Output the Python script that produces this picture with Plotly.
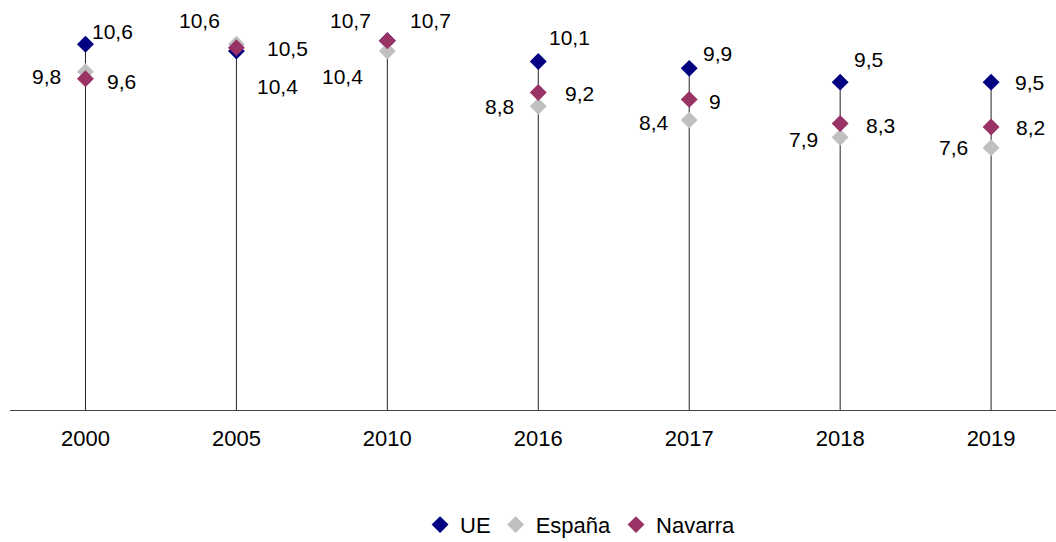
import plotly.graph_objects as go

years = ["2000", "2005", "2010", "2016", "2017", "2018", "2019"]
ue = [10.6, 10.4, 10.7, 10.1, 9.9, 9.5, 9.5]
espana = [9.8, 10.6, 10.4, 8.8, 8.4, 7.9, 7.6]
navarra = [9.6, 10.5, 10.7, 9.2, 9.0, 8.3, 8.2]

# label offsets (px) for each point, by series
ue_off = [(27, 13), (41, -35), (43, 20), (31, 24), (28, 15), (28, 23), (38, 0)]
es_off = [(-39, -5), (-37, 24), (-45, -25), (-39, 0), (-35, -2), (-37, -2), (-38, 0)]
na_off = [(36, -3), (51, -1), (-37, 20), (41, -1), (26, -2), (40, -2), (39, 0)]

series = [
    ("UE", ue, "#000080", ue_off),
    ("España", espana, "#C0C0C0", es_off),
    ("Navarra", navarra, "#993366", na_off),
]

FONT = "Liberation Sans, Arial, sans-serif"

fig = go.Figure()

# drop lines from 0 to highest value of each year
lx, ly = [], []
for i, y in enumerate(years):
    lx += [y, y, None]
    ly += [0, max(ue[i], espana[i], navarra[i]), None]
fig.add_trace(go.Scatter(x=lx, y=ly, mode="lines", line=dict(color="#222", width=1),
                         showlegend=False, hoverinfo="skip"))

for name, vals, col, offs in series:
    fig.add_trace(go.Scatter(x=years, y=vals, mode="markers", name=name,
                             marker=dict(symbol="diamond", size=13, color=col)))
    # category index as x, numeric-looking strings would be read as indices
    for i, (v, (dx, dy)) in enumerate(zip(vals, offs)):
        fig.add_annotation(x=i, y=v, text=f"{v:g}".replace(".", ","), showarrow=False,
                           xshift=dx, yshift=dy, font=dict(family=FONT, size=21, color="#000"))

fig.update_layout(
    width=1056, height=542,
    margin=dict(l=10, r=0, t=0, b=132, autoexpand=False),
    plot_bgcolor="white", paper_bgcolor="white",
    font=dict(family=FONT, size=22, color="#000"),
    showlegend=True,
    legend=dict(orientation="h", x=0.545, xanchor="center", y=-0.28, yanchor="middle",
                font=dict(size=22), itemwidth=30, traceorder="normal"),
)
fig.update_xaxes(type="category", range=[-0.5, 6.43], showline=True, linecolor="#444",
                 linewidth=1, showgrid=False, ticks="", tickfont=dict(size=22),
                 ticklabelstandoff=9)
fig.update_yaxes(range=[0, 11.88], visible=False, showgrid=False, zeroline=False)

fig.write_html("out.html", config={"displayModeBar": False},
               post_script="document.body.style.margin='0';")
